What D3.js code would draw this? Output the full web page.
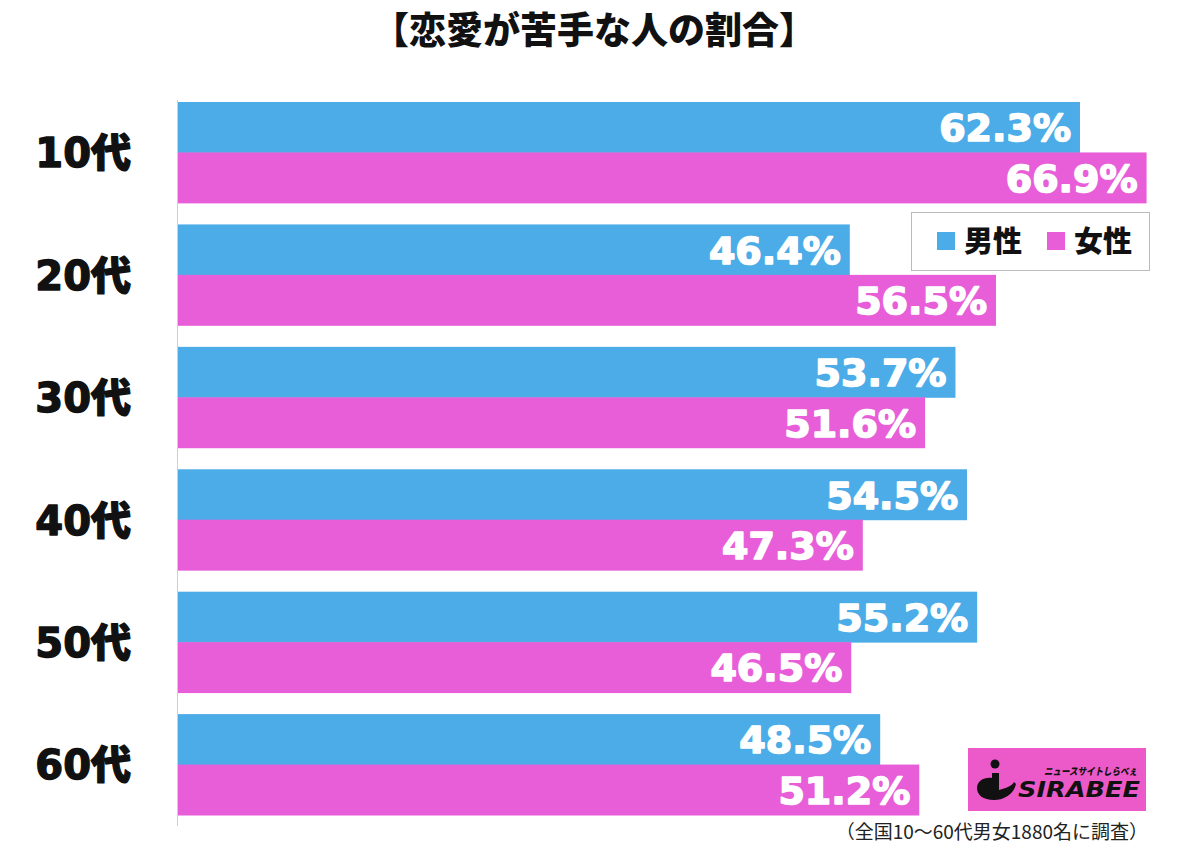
<!DOCTYPE html>
<html><head><meta charset="utf-8">
<script src="https://cdn.jsdelivr.net/npm/d3@7"></script>
<style>html,body{margin:0;padding:0;background:#fff;}svg{display:block;}</style>
</head><body>
<script>
const title = "【恋愛が苦手な人の割合】";
const categories = ["10代","20代","30代","40代","50代","60代"];
const seriesNames = ["男性","女性"];
const maleValues = [62.3, 46.4, 53.7, 54.5, 55.2, 48.5];
const femaleValues = [66.9, 56.5, 51.6, 47.3, 46.5, 51.2];
const seriesColors = ["#4cace8", "#e85ed9"];
const footnote = "（全国10〜60代男女1880名に調査）";

const W = 1200, H = 847;
const svg = d3.select("body").append("svg").attr("width", W).attr("height", H);

const x = d3.scaleLinear().domain([0, 100]).range([178, 178 + 1447.8]);
const y0 = d3.scaleBand().domain(categories).range([102, 815]).paddingInner(0.176).paddingOuter(0);
const y1 = d3.scaleBand().domain(seriesNames).range([0, y0.bandwidth()]).padding(0);
const color = d3.scaleOrdinal().domain(seriesNames).range(seriesColors);

const rows = categories.map((c, i) => ({cat: c, vals: [
  {s: seriesNames[0], v: maleValues[i]},
  {s: seriesNames[1], v: femaleValues[i]}
]}));

// title
svg.append("text").attr("x", 594).attr("y", 44).attr("text-anchor", "middle")
  .style("font-family", "'Noto Sans CJK JP'").style("font-weight", 900)
  .style("font-size", "37px").attr("fill", "#111").text(title);

// axis line
svg.append("line").attr("x1", 177.5).attr("x2", 177.5).attr("y1", 100).attr("y2", 826)
  .attr("stroke", "#cfcfcf").attr("stroke-width", 1);

const g = svg.selectAll("g.grp").data(rows).join("g").attr("class", "grp")
  .attr("transform", d => `translate(0,${y0(d.cat)})`);

g.selectAll("rect").data(d => d.vals).join("rect")
  .attr("x", x(0)).attr("y", d => y1(d.s))
  .attr("width", d => x(d.v) - x(0)).attr("height", y1.bandwidth() + 0.5)
  .attr("fill", d => color(d.s));

const vfs = 38;
g.selectAll("text.val").data(d => d.vals).join("text").attr("class", "val")
  .attr("x", d => x(d.v) - 9).attr("y", d => y1(d.s) + y1.bandwidth() / 2 + vfs * 0.37)
  .attr("text-anchor", "end")
  .style("font-family", "'DejaVu Sans', sans-serif").style("font-weight", "bold")
  .style("font-size", vfs + "px").attr("fill", "#fff")
  .attr("stroke", "#fff").attr("stroke-width", 1.6).attr("stroke-linejoin", "round")
  .text(d => d.v.toFixed(1) + "%");

// category labels
const cfs = 40;
svg.selectAll("text.cat").data(categories).join("text").attr("class", "cat")
  .attr("x", 131).attr("y", d => y0(d) + y0.bandwidth() / 2 + cfs * 0.37)
  .attr("text-anchor", "end")
  .style("font-family", "'DejaVu Sans', 'Noto Sans CJK JP', sans-serif").style("font-weight", 900)
  .style("font-size", cfs + "px").attr("fill", "#111")
  .attr("stroke", "#111").attr("stroke-width", 1.4).attr("stroke-linejoin", "round")
  .text(d => d);

// legend
const lg = svg.append("g");
lg.append("rect").attr("x", 911.5).attr("y", 212.5).attr("width", 238).attr("height", 58)
  .attr("fill", "#fff").attr("stroke", "#777").attr("stroke-width", 1).attr("stroke-dasharray", "1,1");
const legendPos = [937, 1047];
seriesNames.forEach((s, i) => {
  lg.append("rect").attr("x", legendPos[i]).attr("y", 232).attr("width", 18).attr("height", 18).attr("fill", color(s));
  lg.append("text").attr("x", legendPos[i] + 27).attr("y", 252)
    .style("font-family", "'Noto Sans CJK JP'").style("font-weight", 900)
    .style("font-size", "29px").attr("fill", "#111").text(s);
});

// logo
const logo = svg.append("g");
logo.append("rect").attr("x", 968).attr("y", 748).attr("width", 178).attr("height", 63).attr("fill", "#ec5ac9");
logo.append("circle").attr("cx", 995).attr("cy", 764).attr("r", 4.5).attr("fill", "#111");
logo.append("path")
  .attr("d", "M992,773 L999,773 L999,790 C1006,788 1012,786 1014,782 L1016,784 C1014,794 1004,800 994,800 C983,800 977,795 977,788 C977,781 984,777 992,778 Z")
  .attr("fill", "#111");
logo.append("text").attr("x", 1018).attr("y", 797)
  .style("font-family", "'DejaVu Sans', sans-serif").style("font-weight", "bold").style("font-style", "italic")
  .style("font-size", "21px").attr("textLength", 122).attr("lengthAdjust", "spacingAndGlyphs")
  .attr("fill", "#111").text("SIRABEE");
logo.append("text").attr("x", 1044).attr("y", 775)
  .style("font-family", "'Noto Sans CJK JP'").style("font-weight", 900).style("font-style", "italic")
  .style("font-size", "10px").attr("textLength", 93).attr("lengthAdjust", "spacingAndGlyphs")
  .attr("fill", "#111").text("ニュースサイトしらべぇ");

// footnote
svg.append("text").attr("x", 1148).attr("y", 839).attr("text-anchor", "end")
  .style("font-family", "'Noto Sans CJK JP'").style("font-size", "19px").attr("fill", "#222")
  .text(footnote);
</script>
</body></html>
